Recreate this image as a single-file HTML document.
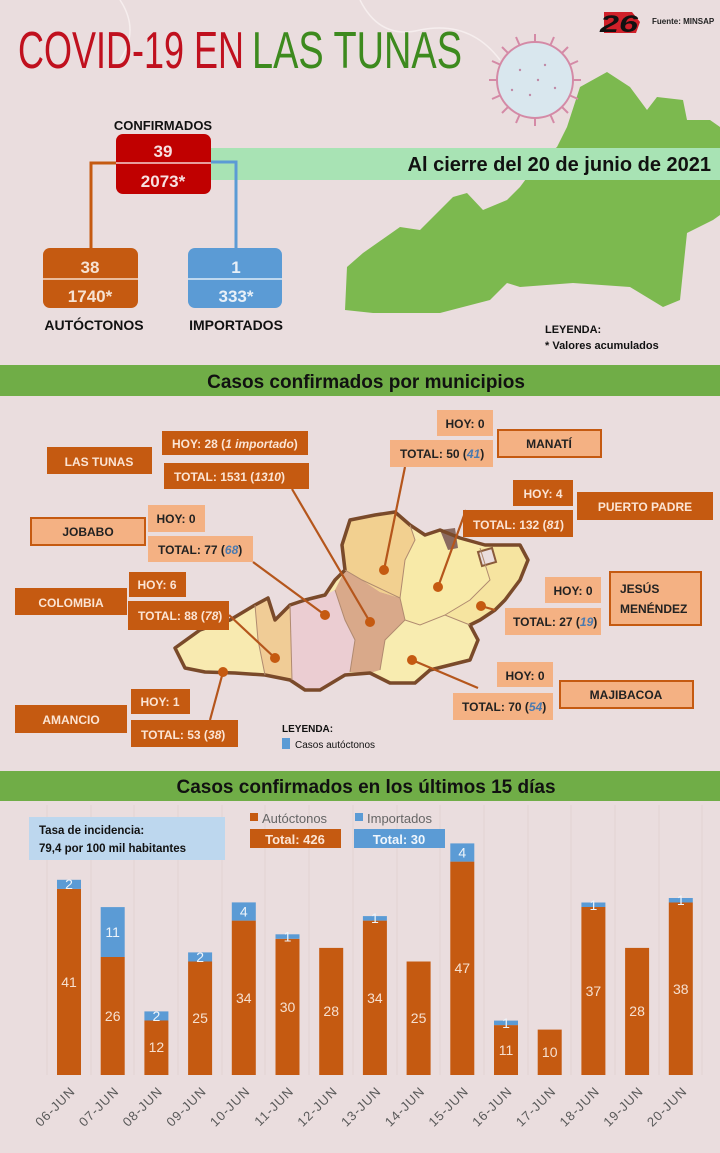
<!DOCTYPE html>
<html><head><meta charset="utf-8"><style>
html,body{margin:0;padding:0;background:#eaddde;}
svg{display:block;font-family:"Liberation Sans",sans-serif;}
.b{font-weight:bold}
.v{font-size:14px;fill:#f6e0d0;text-anchor:middle}
.w{font-size:14px;fill:#eef4fa;text-anchor:middle}
.t{font-size:13px;fill:#595959;text-anchor:end;letter-spacing:1px}
</style></head><body>
<svg width="720" height="1153" viewBox="0 0 720 1153" xmlns="http://www.w3.org/2000/svg">
<rect width="720" height="1153" fill="#eaddde"/>
<path d="M120 0 Q140 30 120 60 M360 0 Q380 40 420 30 Q470 20 500 60" stroke="#f6eeee" stroke-width="1.5" fill="none"/>
<polygon fill="#7cb94f" points="345,310 347,267 363,253 400,227 420,230 453,197 467,193 483,210 507,200 520,187 540,160 557,147 567,127 580,87 607,72 630,87 647,110 657,97 683,100 687,120 710,120 720,127 720,215 713,220 687,233 680,300 663,307 630,287 573,283 520,287 507,283 490,300 440,313 373,313"/>
<g stroke="#d48aa6" stroke-width="2" fill="none">
<line x1="535" y1="80" x2="535" y2="34"/><line x1="535" y1="80" x2="535" y2="126"/>
<line x1="535" y1="80" x2="489" y2="80"/><line x1="535" y1="80" x2="581" y2="80"/>
<line x1="535" y1="80" x2="502" y2="47"/><line x1="535" y1="80" x2="568" y2="113"/>
<line x1="535" y1="80" x2="568" y2="47"/><line x1="535" y1="80" x2="502" y2="113"/>
<line x1="535" y1="80" x2="516" y2="37"/><line x1="535" y1="80" x2="554" y2="123"/>
<line x1="535" y1="80" x2="554" y2="37"/><line x1="535" y1="80" x2="516" y2="123"/>
<line x1="535" y1="80" x2="492" y2="61"/><line x1="535" y1="80" x2="578" y2="99"/>
<line x1="535" y1="80" x2="492" y2="99"/><line x1="535" y1="80" x2="578" y2="61"/>
</g>
<circle cx="535" cy="80" r="38" fill="#d9e7ee" stroke="#d48aa6" stroke-width="2"/>
<g fill="#c08aa6"><circle cx="520" cy="70" r="1.2"/><circle cx="545" cy="65" r="1.2"/><circle cx="530" cy="95" r="1.2"/><circle cx="555" cy="88" r="1.2"/><circle cx="512" cy="90" r="1.2"/><circle cx="538" cy="80" r="1.2"/></g>
<polygon points="604,12 632,12 640,22 636,33 604,33" fill="#d0202a"/>
<text x="600" y="32" font-size="24" class="b" fill="#111" font-style="italic" textLength="38" lengthAdjust="spacingAndGlyphs">26</text>
<text x="652" y="24" font-size="8" fill="#222" class="b">Fuente: MINSAP</text>
<text x="18" y="68" font-size="52" font-family="'Liberation Sans Narrow','Liberation Sans',sans-serif" fill="#c0101e" textLength="226" lengthAdjust="spacingAndGlyphs">COVID-19 EN</text>
<text x="252" y="68" font-size="52" font-family="'Liberation Sans Narrow','Liberation Sans',sans-serif" fill="#3d8a1e" textLength="210" lengthAdjust="spacingAndGlyphs">LAS TUNAS</text>
<rect x="211" y="148" width="509" height="32" fill="#a8e3b4"/>
<text x="711" y="171" font-size="20" class="b" fill="#111" text-anchor="end">Al cierre del 20 de junio de 2021</text>
<polyline points="116,163 91,163 91,248" stroke="#c55a11" stroke-width="3" fill="none"/>
<polyline points="211,162 236,162 236,248" stroke="#5b9bd5" stroke-width="3" fill="none"/>
<text x="163" y="130" font-size="13" class="b" fill="#111" text-anchor="middle">CONFIRMADOS</text>
<rect x="116" y="134" width="95" height="60" rx="7" fill="#c00000"/>
<line x1="116" y1="163" x2="211" y2="163" stroke="#f4d0d0" stroke-width="1.5"/>
<text x="163" y="157" font-size="17" class="b" fill="#f7e0e0" text-anchor="middle">39</text>
<text x="163" y="187" font-size="17" class="b" fill="#f7e0e0" text-anchor="middle">2073*</text>
<rect x="43" y="248" width="95" height="60" rx="7" fill="#c55a11"/>
<line x1="43" y1="279" x2="138" y2="279" stroke="#f6dccc" stroke-width="1.5"/>
<text x="90" y="273" font-size="17" class="b" fill="#f6e2d2" text-anchor="middle">38</text>
<text x="90" y="302" font-size="17" class="b" fill="#f6e2d2" text-anchor="middle">1740*</text>
<rect x="188" y="248" width="94" height="60" rx="7" fill="#5b9bd5"/>
<line x1="188" y1="279" x2="282" y2="279" stroke="#e0ecf8" stroke-width="1.5"/>
<text x="236" y="273" font-size="17" class="b" fill="#e8f0f8" text-anchor="middle">1</text>
<text x="236" y="302" font-size="17" class="b" fill="#e8f0f8" text-anchor="middle">333*</text>
<text x="94" y="330" font-size="14" class="b" fill="#111" text-anchor="middle">AUTÓCTONOS</text>
<text x="236" y="330" font-size="14" class="b" fill="#111" text-anchor="middle">IMPORTADOS</text>
<text x="545" y="333" font-size="11" class="b" fill="#111">LEYENDA:</text>
<text x="545" y="349" font-size="11" class="b" fill="#111">* Valores acumulados</text>
<rect x="0" y="365" width="720" height="31" fill="#70ad47"/>
<text x="366" y="388" font-size="19" class="b" fill="#111" text-anchor="middle">Casos confirmados por municipios</text>
<polygon fill="#f8eab0" points="175,648 200,630 230,620 255,605 268,598 275,620 290,605 305,600 325,595 335,580 345,570 342,545 350,520 375,515 395,512 410,525 425,535 440,530 460,538 485,545 505,545 520,545 528,560 520,580 505,600 495,610 480,620 470,625 478,640 470,660 450,665 430,670 415,683 390,683 370,673 345,675 320,690 305,690 290,680 265,675 235,673 205,672 185,668"/>
<polygon fill="#f0cc96" points="255,605 268,598 275,620 290,605 292,680 265,675 258,640"/>
<polygon fill="#ebcdd2" points="290,605 305,600 325,595 335,590 345,620 355,640 350,672 345,675 320,690 305,690 292,680"/>
<polygon fill="#d9a98a" points="335,590 345,570 362,580 380,592 400,598 405,620 385,640 380,670 370,673 350,672 355,640 345,620"/>
<polygon fill="#f2d090" points="345,570 342,545 350,520 375,515 395,512 410,525 415,540 405,560 400,598 380,592 362,580"/>
<polygon fill="#f8eaa8" points="400,598 405,560 415,540 440,530 460,538 480,548 490,580 470,600 445,615 420,625 405,620"/>
<polygon fill="#f6e4a0" points="480,548 505,545 520,545 528,560 520,580 505,600 480,620 470,625 445,615 470,600 490,580"/>
<polygon fill="#f8ecb0" points="405,620 420,625 445,615 470,625 478,640 470,660 450,665 430,670 415,683 390,683 380,670 385,640"/>
<polygon fill="#8a6a60" points="440,530 455,528 458,548 448,550"/>
<polygon fill="#eaddde" stroke="#8a5a3a" stroke-width="2" points="478,552 492,548 496,562 482,566"/>
<polygon fill="none" stroke="#7a4a2a" stroke-width="3.5" stroke-linejoin="round" points="175,648 200,630 230,620 255,605 268,598 275,620 290,605 305,600 325,595 335,580 345,570 342,545 350,520 375,515 395,512 410,525 425,535 440,530 460,538 485,545 505,545 520,545 528,560 520,580 505,600 495,610 480,620 470,625 478,640 470,660 450,665 430,670 415,683 390,683 370,673 345,675 320,690 305,690 290,680 265,675 235,673 205,672 185,668"/>
<g stroke="#b08a70" stroke-width="1" fill="none">
<polyline points="255,605 258,640 265,675"/><polyline points="290,605 292,680"/>
<polyline points="335,590 345,620 355,640 350,672"/><polyline points="345,570 362,580 400,598 405,620 385,640 380,670"/>
<polyline points="400,598 405,560 415,540 410,525"/><polyline points="405,620 420,625 445,615 470,625"/>
<polyline points="445,615 470,600 490,580 480,548"/>
</g>
<g stroke="#b5561c" stroke-width="2.2">
<line x1="292" y1="489" x2="370" y2="622"/><line x1="405" y1="467" x2="384" y2="570"/>
<line x1="466" y1="510" x2="438" y2="587"/><line x1="253" y1="562" x2="325" y2="615"/>
<line x1="229" y1="615" x2="275" y2="658"/><line x1="495" y1="610" x2="481" y2="606"/>
<line x1="412" y1="660" x2="478" y2="688"/><line x1="210" y1="720" x2="223" y2="672"/>
</g>
<g fill="#c55a11">
<circle cx="370" cy="622" r="5"/><circle cx="384" cy="570" r="5"/><circle cx="438" cy="587" r="5"/><circle cx="325" cy="615" r="5"/><circle cx="275" cy="658" r="5"/><circle cx="481" cy="606" r="5"/><circle cx="412" cy="660" r="5"/><circle cx="223" cy="672" r="5"/>
</g>
<g font-size="12" class="b" font-family="'Liberation Sans Narrow','Liberation Sans',sans-serif">
<rect x="47" y="447" width="105" height="27" fill="#c55a11"/><text x="99" y="466" fill="#fbe4d4" text-anchor="middle">LAS TUNAS</text>
<rect x="162" y="431" width="146" height="24" fill="#c55a11"/><text x="172" y="448" fill="#fbe4d4">HOY: 28 (<tspan font-style="italic">1 importado</tspan>)</text>
<rect x="164" y="463" width="145" height="26" fill="#c55a11"/><text x="174" y="481" fill="#fbe4d4">TOTAL: 1531 (<tspan font-style="italic">1310</tspan>)</text>
<rect x="437" y="410" width="56" height="26" fill="#f4b183"/><text x="465" y="428" fill="#222" text-anchor="middle">HOY: 0</text>
<rect x="498" y="430" width="103" height="27" fill="#f4b183" stroke="#c55a11" stroke-width="2"/><text x="549" y="448" fill="#222" text-anchor="middle">MANATÍ</text>
<rect x="390" y="440" width="103" height="27" fill="#f4b183"/><text x="400" y="458" fill="#222">TOTAL: 50 (<tspan font-style="italic" fill="#4a7ab0">41</tspan>)</text>
<rect x="513" y="480" width="60" height="26" fill="#c55a11"/><text x="543" y="498" fill="#fbe4d4" text-anchor="middle">HOY: 4</text>
<rect x="577" y="492" width="136" height="28" fill="#c55a11"/><text x="645" y="511" fill="#fbe4d4" text-anchor="middle">PUERTO  PADRE</text>
<rect x="463" y="510" width="110" height="27" fill="#c55a11"/><text x="473" y="529" fill="#fbe4d4">TOTAL: 132 (<tspan font-style="italic">81</tspan>)</text>
<rect x="31" y="518" width="114" height="27" fill="#f4b183" stroke="#c55a11" stroke-width="2"/><text x="88" y="536" fill="#222" text-anchor="middle">JOBABO</text>
<rect x="148" y="505" width="57" height="27" fill="#f4b183"/><text x="176" y="523" fill="#222" text-anchor="middle">HOY: 0</text>
<rect x="148" y="536" width="105" height="26" fill="#f4b183"/><text x="158" y="554" fill="#222">TOTAL: 77 (<tspan font-style="italic" fill="#4a7ab0">68</tspan>)</text>
<rect x="129" y="572" width="57" height="25" fill="#c55a11"/><text x="157" y="589" fill="#fbe4d4" text-anchor="middle">HOY: 6</text>
<rect x="15" y="588" width="112" height="27" fill="#c55a11"/><text x="71" y="607" fill="#fbe4d4" text-anchor="middle">COLOMBIA</text>
<rect x="128" y="601" width="101" height="29" fill="#c55a11"/><text x="138" y="620" fill="#fbe4d4">TOTAL: 88 (<tspan font-style="italic">78</tspan>)</text>
<rect x="545" y="577" width="56" height="26" fill="#f4b183"/><text x="573" y="595" fill="#222" text-anchor="middle">HOY: 0</text>
<rect x="610" y="572" width="91" height="53" fill="#f4b183" stroke="#c55a11" stroke-width="2"/><text x="620" y="593" fill="#222">JESÚS</text><text x="620" y="613" fill="#222">MENÉNDEZ</text>
<rect x="505" y="608" width="96" height="27" fill="#f4b183"/><text x="513" y="626" fill="#222">TOTAL: 27 (<tspan font-style="italic" fill="#4a7ab0">19</tspan>)</text>
<rect x="497" y="662" width="56" height="25" fill="#f4b183"/><text x="525" y="680" fill="#222" text-anchor="middle">HOY: 0</text>
<rect x="560" y="681" width="133" height="27" fill="#f4b183" stroke="#c55a11" stroke-width="2"/><text x="626" y="699" fill="#222" text-anchor="middle">MAJIBACOA</text>
<rect x="453" y="693" width="100" height="27" fill="#f4b183"/><text x="462" y="711" fill="#222">TOTAL: 70 (<tspan font-style="italic" fill="#4a7ab0">54</tspan>)</text>
<rect x="131" y="689" width="59" height="25" fill="#c55a11"/><text x="160" y="706" fill="#fbe4d4" text-anchor="middle">HOY: 1</text>
<rect x="15" y="705" width="112" height="28" fill="#c55a11"/><text x="71" y="724" fill="#fbe4d4" text-anchor="middle">AMANCIO</text>
<rect x="131" y="720" width="107" height="27" fill="#c55a11"/><text x="141" y="739" fill="#fbe4d4">TOTAL: 53 (<tspan font-style="italic">38</tspan>)</text>
</g>
<text x="282" y="732" font-size="10" class="b" fill="#111">LEYENDA:</text>
<rect x="282" y="738" width="8" height="11" fill="#5b9bd5"/>
<text x="295" y="748" font-size="10" fill="#111">Casos autóctonos</text>
<rect x="0" y="771" width="720" height="30" fill="#70ad47"/>
<text x="366" y="793" font-size="19" class="b" fill="#111" text-anchor="middle">Casos confirmados en los últimos 15 días</text>
<g stroke="#e2d2d3" stroke-width="1">
<line x1="47" y1="805" x2="47" y2="1075"/><line x1="91" y1="805" x2="91" y2="1075"/><line x1="134" y1="805" x2="134" y2="1075"/><line x1="178" y1="805" x2="178" y2="1075"/><line x1="222" y1="805" x2="222" y2="1075"/><line x1="265" y1="805" x2="265" y2="1075"/><line x1="309" y1="805" x2="309" y2="1075"/><line x1="353" y1="805" x2="353" y2="1075"/><line x1="397" y1="805" x2="397" y2="1075"/><line x1="440" y1="805" x2="440" y2="1075"/><line x1="484" y1="805" x2="484" y2="1075"/><line x1="528" y1="805" x2="528" y2="1075"/><line x1="571" y1="805" x2="571" y2="1075"/><line x1="615" y1="805" x2="615" y2="1075"/><line x1="659" y1="805" x2="659" y2="1075"/><line x1="702" y1="805" x2="702" y2="1075"/>
</g>
<rect x="29" y="817" width="196" height="43" fill="#bdd7ee"/>
<text x="39" y="834" font-size="11.5" class="b" fill="#111">Tasa de incidencia:</text>
<text x="39" y="852" font-size="11.5" class="b" fill="#111">79,4 por 100 mil  habitantes</text>
<rect x="250" y="813" width="8" height="8" fill="#c55a11"/><text x="262" y="823" font-size="13" fill="#666">Autóctonos</text>
<rect x="355" y="813" width="8" height="8" fill="#5b9bd5"/><text x="367" y="823" font-size="13" fill="#666">Importados</text>
<rect x="250" y="829" width="91" height="19" fill="#c55a11"/><text x="295" y="844" font-size="13" class="b" fill="#fbe4d4" text-anchor="middle">Total: 426</text>
<rect x="354" y="829" width="91" height="19" fill="#5b9bd5"/><text x="399" y="844" font-size="13" class="b" fill="#f0f6fc" text-anchor="middle">Total: 30</text>
<g fill="#c55a11">
<rect x="57" y="888.9" width="24" height="186.1"/>
<rect x="100.7" y="957" width="24" height="118"/>
<rect x="144.4" y="1020.5" width="24" height="54.5"/>
<rect x="188.1" y="961.5" width="24" height="113.5"/>
<rect x="231.8" y="920.6" width="24" height="154.4"/>
<rect x="275.5" y="938.8" width="24" height="136.2"/>
<rect x="319.2" y="947.9" width="24" height="127.1"/>
<rect x="362.9" y="920.6" width="24" height="154.4"/>
<rect x="406.6" y="961.5" width="24" height="113.5"/>
<rect x="450.3" y="861.6" width="24" height="213.4"/>
<rect x="494" y="1025.1" width="24" height="49.9"/>
<rect x="537.7" y="1029.6" width="24" height="45.4"/>
<rect x="581.4" y="907" width="24" height="168"/>
<rect x="625.1" y="947.9" width="24" height="127.1"/>
<rect x="668.8" y="902.5" width="24" height="172.5"/>
</g>
<g fill="#5b9bd5">
<rect x="57" y="879.8" width="24" height="9.1"/>
<rect x="100.7" y="907.1" width="24" height="49.9"/>
<rect x="144.4" y="1011.4" width="24" height="9.1"/>
<rect x="188.1" y="952.4" width="24" height="9.1"/>
<rect x="231.8" y="902.4" width="24" height="18.2"/>
<rect x="275.5" y="934.3" width="24" height="4.5"/>
<rect x="362.9" y="916.1" width="24" height="4.5"/>
<rect x="450.3" y="843.4" width="24" height="18.2"/>
<rect x="494" y="1020.6" width="24" height="4.5"/>
<rect x="581.4" y="902.5" width="24" height="4.5"/>
<rect x="668.8" y="898" width="24" height="4.5"/>
</g>
<text class="v" x="69" y="987">41</text>
<text class="v" x="112.7" y="1021">26</text>
<text class="v" x="156.4" y="1052">12</text>
<text class="v" x="200.1" y="1023">25</text>
<text class="v" x="243.8" y="1003">34</text>
<text class="v" x="287.5" y="1012">30</text>
<text class="v" x="331.2" y="1016">28</text>
<text class="v" x="374.9" y="1003">34</text>
<text class="v" x="418.6" y="1023">25</text>
<text class="v" x="462.3" y="973">47</text>
<text class="v" x="506" y="1055">11</text>
<text class="v" x="549.7" y="1057">10</text>
<text class="v" x="593.4" y="996">37</text>
<text class="v" x="637.1" y="1016">28</text>
<text class="v" x="680.8" y="994">38</text>
<text class="w" x="69" y="889">2</text>
<text class="w" x="112.7" y="937">11</text>
<text class="w" x="156.4" y="1021">2</text>
<text class="w" x="200.1" y="962">2</text>
<text class="w" x="243.8" y="916.5">4</text>
<text class="w" x="287.5" y="941.5">1</text>
<text class="w" x="374.9" y="923">1</text>
<text class="w" x="462.3" y="857.5">4</text>
<text class="w" x="506" y="1028">1</text>
<text class="w" x="593.4" y="910">1</text>
<text class="w" x="680.8" y="905">1</text>
<text class="t" transform="translate(76,1092) rotate(-45)">06-JUN</text>
<text class="t" transform="translate(119.7,1092) rotate(-45)">07-JUN</text>
<text class="t" transform="translate(163.4,1092) rotate(-45)">08-JUN</text>
<text class="t" transform="translate(207.1,1092) rotate(-45)">09-JUN</text>
<text class="t" transform="translate(250.8,1092) rotate(-45)">10-JUN</text>
<text class="t" transform="translate(294.5,1092) rotate(-45)">11-JUN</text>
<text class="t" transform="translate(338.2,1092) rotate(-45)">12-JUN</text>
<text class="t" transform="translate(381.9,1092) rotate(-45)">13-JUN</text>
<text class="t" transform="translate(425.6,1092) rotate(-45)">14-JUN</text>
<text class="t" transform="translate(469.3,1092) rotate(-45)">15-JUN</text>
<text class="t" transform="translate(513,1092) rotate(-45)">16-JUN</text>
<text class="t" transform="translate(556.7,1092) rotate(-45)">17-JUN</text>
<text class="t" transform="translate(600.4,1092) rotate(-45)">18-JUN</text>
<text class="t" transform="translate(644.1,1092) rotate(-45)">19-JUN</text>
<text class="t" transform="translate(687.8,1092) rotate(-45)">20-JUN</text>
</svg>
</body></html>
